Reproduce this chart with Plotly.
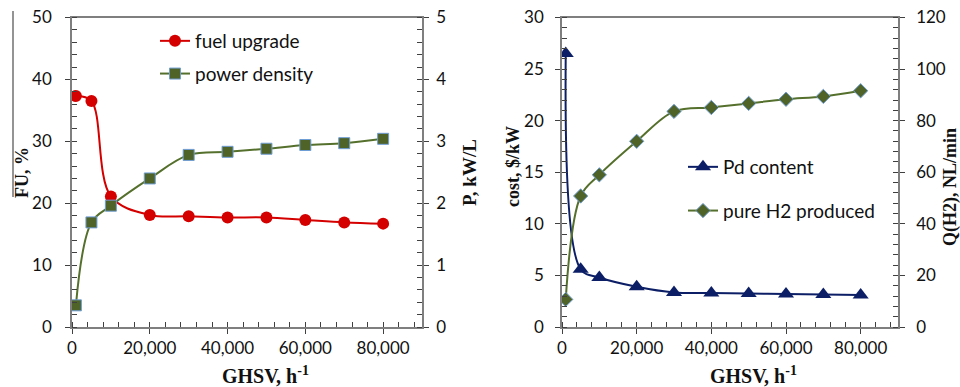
import plotly.graph_objects as go

# ---------------- data ----------------
ghsv = [1000, 5000, 10000, 20000, 30000, 40000, 50000, 60000, 70000, 80000]
fuel_upgrade = [37.3, 36.5, 21.1, 18.1, 17.9, 17.7, 17.7, 17.3, 16.9, 16.7]       # FU, %
power_density = [0.35, 1.69, 1.96, 2.40, 2.78, 2.83, 2.88, 2.94, 2.97, 3.04]      # P, kW/L
pd_content = [26.5, 5.6, 4.8, 3.9, 3.35, 3.3, 3.25, 3.2, 3.15, 3.1]               # cost, $/kW
pure_h2 = [10.7, 50.8, 59.0, 72.0, 83.6, 85.1, 86.7, 88.3, 89.4, 91.6]            # Q(H2), NL/min

x_tickvals = [0, 20000, 40000, 60000, 80000]
x_ticktext = ["0", "20,000", "40,000", "60,000", "80,000"]

RED = "#d40000"
OLIVE = "#4f6228"
OLIVE_LINE = "#55702c"
NAVY = "#0c1f66"
EDGE = "#6f9ed6"
AXIS = "#7f7f7f"
TICK = "#404040"

W, H = 960, 387
def px(x):
    return x / W
def py(y):
    return 1 - y / H

L_DOM = [px(72), px(422)]
R_DOM = [px(562), px(898)]
Y_DOM = [py(327), py(17.5)]

fig = go.Figure()

fig.add_trace(go.Scatter(x=ghsv, y=fuel_upgrade, name="fuel upgrade", mode="lines+markers",
                         line=dict(color=RED, width=2, shape="spline", smoothing=1),
                         marker=dict(symbol="circle", size=12, color=RED),
                         xaxis="x", yaxis="y", legend="legend", legendgroup="a"))
fig.add_trace(go.Scatter(x=ghsv, y=power_density, name="power density", mode="lines+markers",
                         line=dict(color=OLIVE_LINE, width=2, shape="spline", smoothing=1),
                         marker=dict(symbol="square", size=11, color=OLIVE, line=dict(color=EDGE, width=1)),
                         xaxis="x", yaxis="y2", legend="legend", legendgroup="b"))
fig.add_trace(go.Scatter(x=ghsv, y=pd_content, name="Pd content", mode="lines+markers",
                         line=dict(color=NAVY, width=2, shape="spline", smoothing=1),
                         marker=dict(symbol="triangle-up", size=14, color=NAVY),
                         xaxis="x2", yaxis="y3", legend="legend2", legendgroup="c"))
fig.add_trace(go.Scatter(x=ghsv, y=pure_h2, name="pure H2 produced", mode="lines+markers",
                         line=dict(color=OLIVE_LINE, width=2, shape="spline", smoothing=1),
                         marker=dict(symbol="diamond", size=11, color=OLIVE, line=dict(color=EDGE, width=1)),
                         xaxis="x2", yaxis="y4", legend="legend2", legendgroup="d"))

TICKFONT = dict(family="Lato", size=17, color="#111111")

def xax(domain, anchor, **kw):
    d = dict(domain=domain, anchor=anchor, range=[0, 90000], tickvals=x_tickvals, ticktext=x_ticktext,
             showline=True, linecolor=AXIS, linewidth=1.5, mirror=True, showgrid=False, zeroline=False,
             ticks="outside", ticklen=5, tickcolor=TICK, tickwidth=1, tickfont=TICKFONT, automargin=False,
             minor=dict(dtick=4000, tick0=0, ticks="inside", ticklen=5, tickcolor=TICK, tickwidth=1, showgrid=False))
    d.update(kw)
    return d

def yax(domain_anchor, rng, dtick, minor, side, overlaying=None, standoff=8, **kw):
    d = dict(anchor=domain_anchor, range=rng, dtick=dtick, side=side, automargin=False,
             showline=True, linecolor=AXIS, linewidth=1.5, showgrid=False, zeroline=False,
             ticks="outside", ticklen=5, tickcolor=TICK, tickwidth=1, tickfont=TICKFONT,
             ticklabelstandoff=standoff,
             minor=dict(dtick=minor, ticks="inside", ticklen=5, tickcolor=TICK, tickwidth=1, showgrid=False))
    if overlaying:
        d["overlaying"] = overlaying
    else:
        d["domain"] = Y_DOM
    d.update(kw)
    return d

# overlay axes to draw the inner half of the major ticks (crossing ticks)
def x_inner(overlay, anchor):
    return dict(overlaying=overlay, anchor=anchor, range=[0, 90000], tickvals=x_tickvals,
                showticklabels=False, ticks="inside", ticklen=5, tickcolor=TICK, showline=False,
                showgrid=False, zeroline=False, side="bottom", automargin=False)

def y_inner(overlay, anchor, rng, dtick, side):
    return dict(overlaying=overlay, anchor=anchor, range=rng, dtick=dtick, side=side,
                showticklabels=False, ticks="inside", ticklen=5, tickcolor=TICK, showline=False,
                showgrid=False, zeroline=False, automargin=False)

LEGFONT = dict(family="Lato", size=19, color="#111111")

layout = dict(
    width=W, height=H, margin=dict(l=0, r=0, t=0, b=0, autoexpand=False),
    paper_bgcolor="white", plot_bgcolor="rgba(0,0,0,0)",
    xaxis=xax(L_DOM, "y"),
    xaxis2=xax(R_DOM, "y3"),
    yaxis=yax("x", [0, 50], 10, 2, "left", standoff=10),
    yaxis2=yax("x", [0, 5], 1, 0.2, "right", overlaying="y", standoff=4),
    yaxis3=yax("x2", [0, 30], 5, 1, "left", standoff=8),
    yaxis4=yax("x2", [0, 120], 20, 4, "right", overlaying="y3", standoff=8),
    xaxis3=x_inner("x", "y"),
    xaxis4=x_inner("x2", "y3"),
    yaxis5=y_inner("y", "x", [0, 50], 10, "left"),
    yaxis6=y_inner("y", "x", [0, 5], 1, "right"),
    yaxis7=y_inner("y3", "x2", [0, 30], 5, "left"),
    yaxis8=y_inner("y3", "x2", [0, 120], 20, "right"),
    legend=dict(x=px(155), y=py(22), xanchor="left", yanchor="top", bgcolor="rgba(0,0,0,0)",
                font=LEGFONT, itemwidth=30, tracegroupgap=5, traceorder="grouped"),
    legend2=dict(x=px(683), y=py(148), xanchor="left", yanchor="top", bgcolor="rgba(0,0,0,0)",
                 font=LEGFONT, itemwidth=30, tracegroupgap=16, traceorder="grouped"),
    showlegend=True,
)
fig.update_layout(**layout)

TITLEFONT = dict(family="Liberation Serif", size=18, color="#111111")
def title(text, x, y, angle=0, size=18):
    fig.add_annotation(text=f"<b>{text}</b>", x=px(x), y=py(y), xref="paper", yref="paper",
                       showarrow=False, textangle=angle, font=dict(TITLEFONT, size=size),
                       xanchor="center", yanchor="middle")

title("GHSV, h<sup>-1</sup>", 265, 375, size=20)
title("GHSV, h<sup>-1</sup>", 753, 375, size=20)
title("FU, %", 22, 173, -90)
title("P, kW/L", 469, 173, -90, size=19)
title("cost, $/kW", 513, 167, -90)
title("Q(H2), NL/min", 950, 187, -90)

# stray vertical rule at the far left of the original figure
fig.add_shape(type="line", xref="paper", yref="paper", x0=px(13), x1=px(13), y0=py(11), y1=py(197),
              line=dict(color="#707070", width=1.5))

fig.write_html("out.html")
